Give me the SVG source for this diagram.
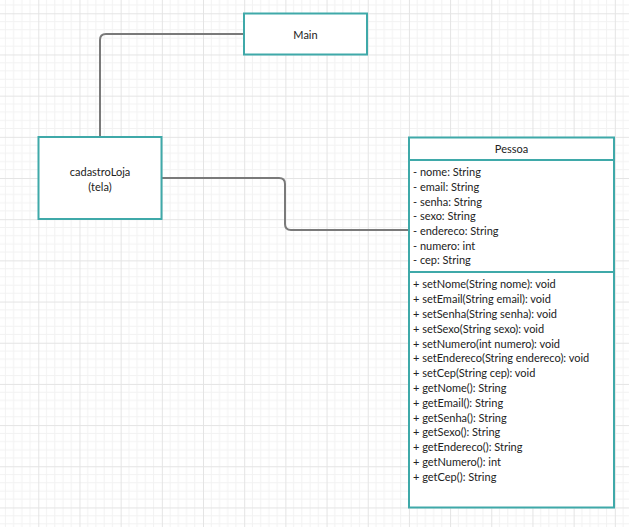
<svg xmlns="http://www.w3.org/2000/svg" width="629" height="527" viewBox="0 0 629 527">
<style>
.box{fill:#ffffff;stroke:#3fa9a9;stroke-width:2}
.conn{fill:none;stroke:#7a7a7a;stroke-width:2}
text{font-family:Lato,"Liberation Sans",sans-serif;font-size:11px;fill:#222222}
.c{text-anchor:middle}
</style>
<defs>
<pattern id="grid" patternUnits="userSpaceOnUse" x="38.3" y="13.3" width="41.18" height="41.18">
<path d="M8.24 0V41.18M16.47 0V41.18M24.71 0V41.18M32.94 0V41.18M0 8.24H41.18M0 16.47H41.18M0 24.71H41.18M0 32.94H41.18" stroke="#f2f2f2" stroke-width="1" fill="none"/>
<path d="M0.5 0V41.18M0 0.5H41.18" stroke="#e4e4e4" stroke-width="1" fill="none"/>
</pattern>
</defs>
<rect width="629" height="527" fill="#ffffff"/>
<rect width="629" height="527" fill="url(#grid)"/>
<g id="connectors">
<path class="conn" d="M100 137V40Q100 34 106 34H244"/>
<path class="conn" d="M162 178H279Q285 178 285 184V224Q285 230 291 230H409"/>
</g>
<g id="main">
<rect class="box" x="244" y="13.5" width="123" height="41"/>
<text class="c" x="305.5" y="38.5">Main</text>
</g>
<g id="cadastroLoja">
<rect class="box" x="38.5" y="137" width="123" height="82"/>
<text class="c" x="100" y="175.5">cadastroLoja</text>
<text class="c" x="100" y="190.5">(tela)</text>
</g>
<g id="pessoa">
<rect class="box" x="409" y="137.5" width="205" height="370"/>
<line x1="409" y1="160" x2="614" y2="160" stroke="#3fa9a9" stroke-width="2"/>
<line x1="409" y1="272" x2="614" y2="272" stroke="#3fa9a9" stroke-width="2"/>
<text class="c" x="511.5" y="153">Pessoa</text>
<text x="413" y="176.3">- nome: String</text>
<text x="413" y="191">- email: String</text>
<text x="413" y="205.7">- senha: String</text>
<text x="413" y="220.3">- sexo: String</text>
<text x="413" y="235">- endereco: String</text>
<text x="413" y="249.7">- numero: int</text>
<text x="413" y="264.3">- cep: String</text>
<text x="413" y="288.3">+ setNome(String nome): void</text>
<text x="413" y="303.1">+ setEmail(String email): void</text>
<text x="413" y="317.9">+ setSenha(String senha): void</text>
<text x="413" y="332.7">+ setSexo(String sexo): void</text>
<text x="413" y="347.5">+ setNumero(int numero): void</text>
<text x="413" y="362.3">+ setEndereco(String endereco): void</text>
<text x="413" y="377.1">+ setCep(String cep): void</text>
<text x="413" y="391.9">+ getNome(): String</text>
<text x="413" y="406.7">+ getEmail(): String</text>
<text x="413" y="421.5">+ getSenha(): String</text>
<text x="413" y="436.3">+ getSexo(): String</text>
<text x="413" y="451.1">+ getEndereco(): String</text>
<text x="413" y="465.9">+ getNumero(): int</text>
<text x="413" y="480.7">+ getCep(): String</text>
</g>
</svg>
